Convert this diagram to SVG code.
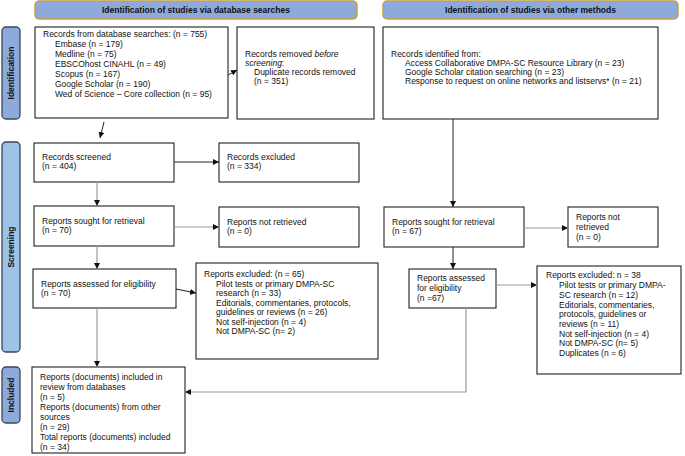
<svg xmlns="http://www.w3.org/2000/svg" width="685" height="456" viewBox="0 0 685 456">
<defs>
<marker id="ah" viewBox="0 0 10 10" refX="10" refY="5" markerWidth="6" markerHeight="6" markerUnits="userSpaceOnUse" orient="auto">
<path d="M0,0 L10,5 L0,10 z" fill="#111"/>
</marker>
<style>
.box{fill:#fff;stroke:#222;stroke-width:1.1}
.hdr{fill:#8eaadb;stroke:#c9a13b;stroke-width:1.5}
.side{stroke:#3a4656;stroke-width:1.3}
.t{font-family:"Liberation Sans",Arial,sans-serif;font-size:8.5px;fill:#111}
.b{font-family:"Liberation Sans",Arial,sans-serif;font-size:8.5px;font-weight:bold;fill:#111}
.k{fill:none;stroke:#222;stroke-width:1;marker-end:url(#ah)}
.g{fill:none;stroke:#9a9a9a;stroke-width:1.2;marker-end:url(#ah)}
</style>
</defs>
<rect width="685" height="456" fill="#fff"/>

<g id="hdr-db"><rect class="hdr" x="35" y="1" width="322" height="18" rx="4"/><text class="b" x="196" y="13" text-anchor="middle">Identification of studies via database searches</text></g>
<g id="hdr-other"><rect class="hdr" x="383" y="1" width="295" height="18" rx="4"/><text class="b" x="530.5" y="13" text-anchor="middle">Identification of studies via other methods</text></g>

<g id="side-identification"><rect class="side" x="2" y="27" width="18" height="92" rx="4" fill="#8eaadb"/><text class="b" transform="translate(14,73) rotate(-90)" text-anchor="middle">Identification</text></g>
<g id="side-screening"><rect class="side" x="2" y="142" width="18" height="210" rx="4" fill="#9dc3e6"/><text class="b" transform="translate(14,247) rotate(-90)" text-anchor="middle">Screening</text></g>
<g id="side-included"><rect class="side" x="2" y="367" width="18" height="56" rx="4" fill="#8eaadb"/><text class="b" transform="translate(14,395) rotate(-90)" text-anchor="middle">Included</text></g>

<g id="db-records"><rect class="box" x="35" y="27" width="193" height="91"/>
<text class="t"><tspan x="43" y="37">Records from database searches: (n = 755)</tspan><tspan x="55" y="47">Embase (n = 179)</tspan><tspan x="55" y="57">Medline (n = 75)</tspan><tspan x="55" y="67">EBSCOhost CINAHL (n = 49)</tspan><tspan x="55" y="77">Scopus (n = 167)</tspan><tspan x="55" y="87">Google Scholar (n = 190)</tspan><tspan x="55" y="97">Wed of Science – Core collection (n = 95)</tspan></text></g>

<g id="removed"><rect class="box" x="237" y="27" width="137" height="92"/>
<text class="t"><tspan x="245" y="57">Records removed <tspan font-style="italic">before</tspan></tspan><tspan x="245" y="66"><tspan font-style="italic">screening</tspan>:</tspan><tspan x="254" y="75">Duplicate records removed</tspan><tspan x="254" y="84">(n = 351)</tspan></text></g>

<g id="other-records"><rect class="box" x="383" y="27" width="275" height="92"/>
<text class="t"><tspan x="391" y="57">Records identified from:</tspan><tspan x="405" y="66">Access Collaborative DMPA-SC Resource Library (n = 23)</tspan><tspan x="405" y="75">Google Scholar citation searching (n = 23)</tspan><tspan x="405" y="84">Response to request on online networks and listservs* (n = 21)</tspan></text></g>

<g id="screened"><rect class="box" x="34" y="143" width="140" height="39"/>
<text class="t"><tspan x="42" y="160">Records screened</tspan><tspan x="42" y="169">(n = 404)</tspan></text></g>

<g id="excluded"><rect class="box" x="219" y="143" width="140" height="39"/>
<text class="t"><tspan x="227" y="160">Records excluded</tspan><tspan x="227" y="169">(n = 334)</tspan></text></g>

<g id="sought-db"><rect class="box" x="34" y="206" width="140" height="40"/>
<text class="t"><tspan x="42" y="224">Reports sought for retrieval</tspan><tspan x="42" y="233">(n = 70)</tspan></text></g>

<g id="notretrieved-db"><rect class="box" x="219" y="207" width="140" height="40"/>
<text class="t"><tspan x="227" y="225">Reports not retrieved</tspan><tspan x="227" y="234">(n = 0)</tspan></text></g>

<g id="assessed-db"><rect class="box" x="33" y="269" width="143" height="39"/>
<text class="t"><tspan x="41" y="287">Reports assessed for eligibility</tspan><tspan x="41" y="296">(n = 70)</tspan></text></g>

<g id="excluded-db"><rect class="box" x="196" y="263" width="182" height="96"/>
<text class="t"><tspan x="204" y="277">Reports excluded: (n = 65)</tspan><tspan x="216" y="286.5">Pilot tests or primary DMPA-SC</tspan><tspan x="216" y="296">research (n = 33)</tspan><tspan x="216" y="305.5">Editorials, commentaries, protocols,</tspan><tspan x="216" y="315">guidelines or reviews (n = 26)</tspan><tspan x="216" y="324.5">Not self-injection (n = 4)</tspan><tspan x="216" y="334">Not DMPA-SC (n= 2)</tspan></text></g>

<g id="sought-other"><rect class="box" x="384" y="207" width="140" height="40"/>
<text class="t"><tspan x="392" y="225">Reports sought for retrieval</tspan><tspan x="392" y="234">(n = 67)</tspan></text></g>

<g id="notretrieved-other"><rect class="box" x="568" y="207" width="90" height="40"/>
<text class="t"><tspan x="576" y="220">Reports not</tspan><tspan x="576" y="230">retrieved</tspan><tspan x="576" y="240">(n = 0)</tspan></text></g>

<g id="assessed-other"><rect class="box" x="409" y="269" width="87" height="39"/>
<text class="t"><tspan x="417" y="281">Reports assessed</tspan><tspan x="417" y="291">for eligibility</tspan><tspan x="417" y="301">(n =67)</tspan></text></g>

<g id="excluded-other"><rect class="box" x="537" y="266" width="144" height="108"/>
<text class="t"><tspan x="546" y="278">Reports excluded: n = 38</tspan><tspan x="559" y="288">Pilot tests or primary DMPA-</tspan><tspan x="559" y="297.5">SC research (n = 12)</tspan><tspan x="559" y="307.5">Editorials, commentaries,</tspan><tspan x="559" y="317">protocols, guidelines or</tspan><tspan x="559" y="327">reviews (n = 11)</tspan><tspan x="559" y="336.5">Not self-injection (n = 4)</tspan><tspan x="559" y="346">Not DMPA-SC (n= 5)</tspan><tspan x="559" y="356">Duplicates (n = 6)</tspan></text></g>

<g id="included"><rect class="box" x="32" y="367" width="153" height="86"/>
<text class="t"><tspan x="40" y="380">Reports (documents) included in</tspan><tspan x="40" y="390">review from databases</tspan><tspan x="40" y="400">(n = 5)</tspan><tspan x="40" y="410">Reports (documents) from other</tspan><tspan x="40" y="420">sources</tspan><tspan x="40" y="430">(n = 29)</tspan><tspan x="40" y="440">Total reports (documents) included</tspan><tspan x="40" y="450">(n = 34)</tspan></text></g>

<g id="connectors">
<line class="k" x1="228" y1="75" x2="237" y2="70"/>
<line class="k" x1="104" y1="122" x2="100" y2="138"/>
<line class="k" x1="174" y1="162" x2="219" y2="162"/>
<line class="g" x1="97" y1="182" x2="97" y2="206"/>
<line class="g" x1="174" y1="227" x2="219" y2="227"/>
<line class="g" x1="97" y1="246" x2="97" y2="269"/>
<line class="k" x1="176" y1="289" x2="196" y2="293"/>
<line class="g" x1="97" y1="308" x2="97" y2="367"/>
<line class="k" x1="453" y1="119" x2="453" y2="207"/>
<line class="g" x1="524" y1="228" x2="568" y2="228"/>
<line class="k" x1="453" y1="247" x2="453" y2="269"/>
<line class="g" x1="496" y1="285" x2="537" y2="285"/>
<polyline class="g" points="466,308 466,392 185,392"/>
</g>
</svg>
